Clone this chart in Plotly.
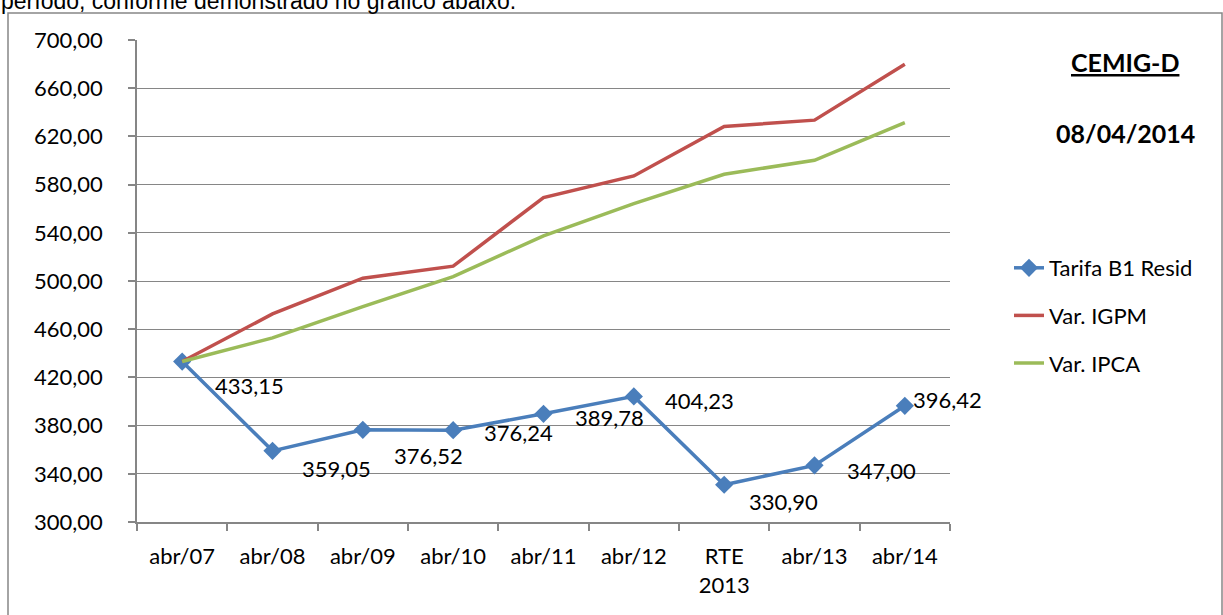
import plotly.graph_objects as go

# ---- data ----
categories = ["abr/07", "abr/08", "abr/09", "abr/10", "abr/11", "abr/12", "RTE<br>2013", "abr/13", "abr/14"]
tarifa_b1 = [433.15, 359.05, 376.52, 376.24, 389.78, 404.23, 330.90, 347.00, 396.42]
var_igpm = [433.15, 472.7, 502.3, 512.3, 569.2, 587.2, 628.2, 633.5, 679.8]
var_ipca = [433.15, 452.8, 478.8, 503.7, 537.5, 564.2, 588.6, 600.2, 631.5]
y_ticks = [300, 340, 380, 420, 460, 500, 540, 580, 620, 660, 700]

# label offsets in pixels (style only)
label_dx = [67, 64, 66, 65, 66, 66, 59, 67, 43]
label_dy = [-24, -18, -26, -2, -4, -4, -17, -5, 6]

W, H = 1223, 615
L, R, T, B = 137, 273, 40, 93
PW, PH = W - L - R, H - T - B


def px(xp):
    return (xp - L) / PW


def py(yp):
    return (H - B - yp) / PH


FONT = "Lato"
GRAY = "#868686"
BLUE = "#4A7EBB"
RED = "#C0504D"
GREEN = "#9BBB59"

fig = go.Figure()
fig.add_trace(go.Scatter(x=categories, y=tarifa_b1, name="Tarifa B1 Resid", mode="lines+markers",
                         line=dict(color=BLUE, width=3.5), marker=dict(symbol="diamond", size=14, color=BLUE),
                         legendgroup="a"))
fig.add_trace(go.Scatter(x=categories, y=var_igpm, name="Var. IGPM", mode="lines",
                         line=dict(color=RED, width=3.5), legendgroup="b"))
fig.add_trace(go.Scatter(x=categories, y=var_ipca, name="Var. IPCA", mode="lines",
                         line=dict(color=GREEN, width=3.5), legendgroup="c"))

annotations = []
for c, v, dx, dy in zip(categories, tarifa_b1, label_dx, label_dy):
    annotations.append(dict(x=c, y=v, xref="x", yref="y", text=f"{v:.2f}".replace(".", ","),
                            showarrow=False, xshift=dx, yshift=dy, xanchor="center", yanchor="middle",
                            font=dict(family=FONT, size=22, color="black")))

annotations.append(dict(x=px(1125), y=py(62), xref="paper", yref="paper", text="<b><u>CEMIG-D</u></b>",
                        showarrow=False, xanchor="center", yanchor="middle",
                        font=dict(family=FONT, size=25, color="black")))
annotations.append(dict(x=px(1125), y=py(133), xref="paper", yref="paper", text="<b>08/04/2014</b>",
                        showarrow=False, xanchor="center", yanchor="middle",
                        font=dict(family=FONT, size=25, color="black")))
annotations.append(dict(x=px(-1), y=py(16), xref="paper", yref="paper",
                        text="período, conforme demonstrado no gráfico abaixo.",
                        showarrow=False, xanchor="left", yanchor="bottom",
                        font=dict(family="Liberation Sans", size=23, color="black")))

fig.update_layout(
    width=W, height=H,
    margin=dict(l=L, r=R, t=T, b=B),
    paper_bgcolor="white", plot_bgcolor="white",
    separators=",.",
    font=dict(family=FONT, size=22, color="black"),
    showlegend=True,
    legend=dict(x=px(1009), y=py(247), xanchor="left", yanchor="top",
                font=dict(family=FONT, size=22, color="black"),
                tracegroupgap=16, traceorder="grouped", bgcolor="rgba(0,0,0,0)"),
    annotations=annotations,
    shapes=[dict(type="rect", xref="paper", yref="paper", x0=px(8), x1=px(1222), y0=py(640), y1=py(13),
                 line=dict(color=GRAY, width=1.5), fillcolor="rgba(0,0,0,0)", layer="below")],
)

fig.update_xaxes(type="category", showgrid=False, showline=True, linecolor=GRAY, linewidth=1.5,
                 ticks="outside", ticklen=7, tickcolor=GRAY, tickwidth=1.5, tickson="boundaries",
                 tickfont=dict(family=FONT, size=22, color="black"), ticklabelstandoff=14,
                 range=[-0.5, len(categories) - 0.5])
fig.update_yaxes(range=[300, 700], tickvals=y_ticks, tickformat=".2f", showgrid=True, gridcolor=GRAY,
                 gridwidth=1.3, showline=True, linecolor=GRAY, linewidth=1.5, ticks="outside", ticklen=7,
                 tickcolor=GRAY, tickwidth=1.5, zeroline=False,
                 tickfont=dict(family=FONT, size=22, color="black"), ticklabelstandoff=21)

fig.write_html("out.html", config={"displayModeBar": False},
               post_script="document.body.style.margin='0';document.body.style.overflow='hidden';")
